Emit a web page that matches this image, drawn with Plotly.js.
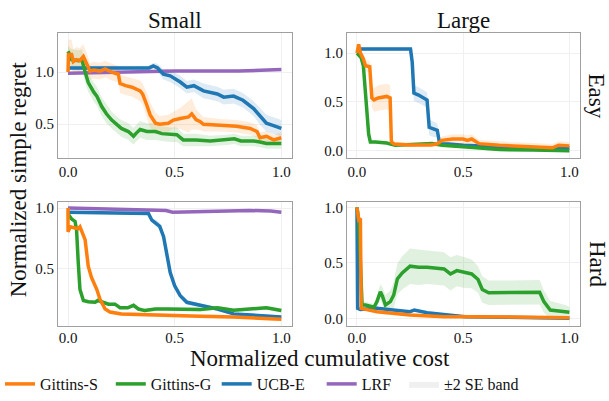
<!DOCTYPE html>
<html>
<head>
<meta charset="utf-8">
<script src="https://cdn.plot.ly/plotly-3.0.1.min.js"></script>
<style>html,body{margin:0;padding:0;background:#fff}#plot{width:609px;height:401px}</style>
</head>
<body>
<div id="plot"></div>
<script>
// ---------- DATA ----------
const seriesNames = ["Gittins-S", "Gittins-G", "UCB-E", "LRF"];
const bandName = "±2 SE band";
const colNames = ["Small", "Large"];
const rowNames = ["Easy", "Hard"];
const xTitle = "Normalized cumulative cost";
const yTitle = "Normalized simple regret";
const xTicks = [0, 0.5, 1.0];

// Small / Easy
const SE_GS_x = [0, 0.002, 0.017, 0.025, 0.04, 0.055, 0.072, 0.088, 0.103, 0.12, 0.15, 0.174, 0.205, 0.236, 0.244, 0.27, 0.30, 0.338, 0.35, 0.37, 0.385, 0.41, 0.43, 0.47, 0.494, 0.526, 0.565, 0.58, 0.60, 0.62, 0.635, 0.714, 0.79, 0.854, 0.886, 0.90, 0.93, 0.964, 1.0];
const SE_GS_y = [1.0, 1.17, 1.17, 1.10, 1.12, 1.11, 1.15, 1.075, 1.01, 1.02, 1.01, 1.03, 1.0, 0.98, 0.89, 0.87, 0.855, 0.82, 0.79, 0.68, 0.59, 0.51, 0.50, 0.51, 0.54, 0.555, 0.57, 0.60, 0.545, 0.525, 0.50, 0.49, 0.48, 0.46, 0.43, 0.37, 0.385, 0.35, 0.37];
const SE_GS_se = [0.02, 0.14, 0.14, 0.12, 0.12, 0.12, 0.12, 0.1, 0.08, 0.08, 0.08, 0.08, 0.08, 0.08, 0.09, 0.09, 0.09, 0.1, 0.1, 0.12, 0.12, 0.1, 0.08, 0.08, 0.08, 0.1, 0.15, 0.15, 0.1, 0.08, 0.07, 0.06, 0.06, 0.06, 0.06, 0.05, 0.05, 0.05, 0.05];
const SE_GG_x = [0, 0.017, 0.05, 0.065, 0.08, 0.095, 0.12, 0.135, 0.158, 0.18, 0.205, 0.23, 0.25, 0.283, 0.307, 0.32, 0.338, 0.37, 0.41, 0.44, 0.48, 0.51, 0.54, 0.60, 0.667, 0.745, 0.78, 0.81, 0.87, 0.90, 0.93, 1.0];
const SE_GG_y = [1.2, 1.12, 1.11, 1.12, 1.0, 0.90, 0.81, 0.77, 0.67, 0.60, 0.54, 0.49, 0.46, 0.43, 0.385, 0.415, 0.45, 0.43, 0.43, 0.41, 0.40, 0.40, 0.35, 0.35, 0.34, 0.35, 0.36, 0.34, 0.34, 0.33, 0.315, 0.315];
const SE_GG_se = [0.05, 0.1, 0.1, 0.1, 0.1, 0.09, 0.09, 0.09, 0.09, 0.09, 0.08, 0.08, 0.08, 0.08, 0.08, 0.08, 0.08, 0.08, 0.08, 0.07, 0.07, 0.07, 0.06, 0.06, 0.05, 0.05, 0.05, 0.05, 0.05, 0.05, 0.05, 0.05];
const SE_UC_x = [0, 0.38, 0.40, 0.42, 0.447, 0.479, 0.526, 0.557, 0.59, 0.635, 0.70, 0.73, 0.776, 0.82, 0.87, 0.90, 0.93, 0.96, 1.0];
const SE_UC_y = [1.04, 1.04, 1.06, 1.04, 0.98, 0.965, 0.905, 0.855, 0.87, 0.82, 0.79, 0.76, 0.77, 0.73, 0.65, 0.575, 0.51, 0.49, 0.46];
const SE_UC_se = [0.02, 0.02, 0.03, 0.04, 0.05, 0.06, 0.06, 0.06, 0.06, 0.07, 0.07, 0.07, 0.07, 0.07, 0.07, 0.08, 0.08, 0.08, 0.08];
const SE_LR_x = [0, 0.2, 0.5, 0.8, 0.95, 1.0];
const SE_LR_y = [0.99, 1.0, 1.01, 1.01, 1.02, 1.025];
const SE_LR_se = [0.01, 0.01, 0.01, 0.01, 0.01, 0.01];

// Large / Easy
const LE_GS_x = [0, 0.008, 0.016, 0.03, 0.04, 0.06, 0.07, 0.08, 0.10, 0.14, 0.156, 0.162, 0.175, 0.25, 0.347, 0.378, 0.40, 0.45, 0.50, 0.52, 0.54, 0.575, 0.67, 0.83, 0.92, 0.95, 1.0];
const LE_GS_y = [1.0, 1.09, 1.0, 0.94, 0.87, 0.86, 0.54, 0.52, 0.54, 0.556, 0.54, 0.09, 0.07, 0.06, 0.06, 0.07, 0.107, 0.12, 0.12, 0.106, 0.12, 0.073, 0.057, 0.04, 0.03, 0.057, 0.05];
const LE_GS_se = [0.02, 0.03, 0.03, 0.05, 0.06, 0.06, 0.1, 0.12, 0.13, 0.13, 0.13, 0.04, 0.02, 0.02, 0.02, 0.03, 0.04, 0.05, 0.05, 0.05, 0.05, 0.04, 0.04, 0.04, 0.04, 0.04, 0.04];
const LE_GG_x = [0, 0.02, 0.03, 0.047, 0.055, 0.063, 0.087, 0.14, 0.18, 0.354, 0.40, 0.50, 0.67, 0.83, 1.0];
const LE_GG_y = [1.0, 0.95, 0.87, 0.40, 0.17, 0.09, 0.09, 0.08, 0.057, 0.073, 0.057, 0.04, 0.013, 0.007, 0.0];
const LE_GG_se = [0.015, 0.015, 0.015, 0.015, 0.015, 0.015, 0.015, 0.015, 0.015, 0.015, 0.015, 0.015, 0.015, 0.015, 0.015];
const LE_UC_x = [0, 0.252, 0.26, 0.268, 0.29, 0.315, 0.33, 0.34, 0.36, 0.378, 0.386, 0.39, 0.43, 0.50, 0.67, 0.83, 1.0];
const LE_UC_y = [1.04, 1.04, 0.907, 0.59, 0.57, 0.54, 0.52, 0.24, 0.22, 0.21, 0.11, 0.07, 0.07, 0.057, 0.04, 0.03, 0.03];
const LE_UC_se = [0.02, 0.02, 0.05, 0.08, 0.08, 0.08, 0.08, 0.08, 0.08, 0.07, 0.05, 0.02, 0.015, 0.015, 0.015, 0.015, 0.015];

// Small / Hard
const SH_GS_x = [0, 0.0, 0.01, 0.025, 0.048, 0.056, 0.064, 0.08, 0.095, 0.11, 0.135, 0.15, 0.174, 0.197, 0.25, 0.33, 0.463, 0.62, 0.776, 1.0];
const SH_GS_y = [1.0, 0.805, 0.846, 0.84, 0.83, 0.846, 0.81, 0.74, 0.52, 0.43, 0.33, 0.25, 0.17, 0.145, 0.13, 0.125, 0.122, 0.11, 0.105, 0.085];
const SH_GS_se = [0.015, 0.015, 0.015, 0.015, 0.015, 0.015, 0.015, 0.015, 0.015, 0.015, 0.015, 0.015, 0.015, 0.015, 0.015, 0.015, 0.015, 0.015, 0.015, 0.015];
const SH_GG_x = [0, 0.017, 0.033, 0.04, 0.048, 0.056, 0.072, 0.095, 0.127, 0.14, 0.19, 0.22, 0.244, 0.28, 0.307, 0.33, 0.36, 0.41, 0.463, 0.62, 0.70, 0.776, 0.93, 1.0];
const SH_GG_y = [0.95, 0.91, 0.89, 0.82, 0.55, 0.33, 0.24, 0.23, 0.225, 0.24, 0.21, 0.21, 0.18, 0.18, 0.20, 0.17, 0.157, 0.17, 0.17, 0.165, 0.18, 0.16, 0.18, 0.157];
const SH_GG_se = [0.015, 0.015, 0.015, 0.015, 0.015, 0.015, 0.015, 0.015, 0.015, 0.015, 0.015, 0.015, 0.015, 0.015, 0.015, 0.015, 0.015, 0.015, 0.015, 0.015, 0.015, 0.015, 0.015, 0.015];
const SH_UC_x = [0, 0.377, 0.393, 0.416, 0.43, 0.448, 0.463, 0.479, 0.50, 0.526, 0.557, 0.62, 0.70, 0.776, 0.93, 1.0];
const SH_UC_y = [0.965, 0.955, 0.90, 0.87, 0.85, 0.765, 0.63, 0.47, 0.36, 0.28, 0.225, 0.20, 0.17, 0.13, 0.117, 0.105];
const SH_UC_se = [0.01, 0.01, 0.02, 0.03, 0.03, 0.03, 0.03, 0.03, 0.03, 0.02, 0.02, 0.015, 0.015, 0.01, 0.01, 0.01];
const SH_LR_x = [0, 0.2, 0.46, 0.49, 0.7, 0.85, 0.95, 1.0];
const SH_LR_y = [1.0, 0.99, 0.98, 0.965, 0.97, 0.98, 0.975, 0.965];
const SH_LR_se = [0.01, 0.01, 0.01, 0.01, 0.01, 0.01, 0.01, 0.01];

// Large / Hard
const LH_GS_x = [0, 0.008, 0.016, 0.02, 0.03, 0.094, 0.25, 0.41, 0.51, 0.67, 1.0];
const LH_GS_y = [1.0, 0.89, 0.90, 0.09, 0.085, 0.06, 0.03, 0.015, 0.015, 0.01, 0.005];
const LH_GS_se = [0.01, 0.01, 0.01, 0.01, 0.01, 0.01, 0.01, 0.01, 0.01, 0.01, 0.01];
const LH_GG_x = [0, 0.008, 0.024, 0.04, 0.08, 0.094, 0.11, 0.12, 0.134, 0.157, 0.173, 0.19, 0.213, 0.25, 0.29, 0.33, 0.41, 0.44, 0.47, 0.50, 0.54, 0.57, 0.59, 0.62, 0.86, 0.88, 0.91, 0.98, 1.0];
const LH_GG_y = [1.0, 0.89, 0.12, 0.12, 0.10, 0.15, 0.24, 0.20, 0.12, 0.15, 0.21, 0.355, 0.41, 0.47, 0.46, 0.46, 0.445, 0.40, 0.43, 0.415, 0.40, 0.35, 0.26, 0.23, 0.235, 0.15, 0.075, 0.06, 0.055];
const LH_GG_se = [0.01, 0.02, 0.03, 0.03, 0.03, 0.05, 0.07, 0.08, 0.09, 0.1, 0.12, 0.14, 0.15, 0.16, 0.16, 0.15, 0.15, 0.15, 0.14, 0.14, 0.13, 0.12, 0.12, 0.11, 0.11, 0.1, 0.08, 0.06, 0.05];
const LH_UC_x = [0, 0.003, 0.016, 0.094, 0.17, 0.25, 0.27, 0.33, 0.43, 0.51, 0.67, 1.0];
const LH_UC_y = [1.0, 0.09, 0.08, 0.09, 0.074, 0.06, 0.075, 0.05, 0.03, 0.015, 0.01, 0.0];
const LH_UC_se = [0.01, 0.01, 0.01, 0.01, 0.01, 0.01, 0.01, 0.01, 0.01, 0.01, 0.01, 0.01];

// ---------- STYLE ----------
const colors = {"Gittins-S": "#ff7f0e", "Gittins-G": "#2ca02c", "UCB-E": "#1f77b4", "LRF": "#9467bd"};
const bandColors = {"Gittins-S": "rgba(255,127,14,0.15)", "Gittins-G": "rgba(44,160,44,0.15)", "UCB-E": "rgba(31,119,180,0.15)", "LRF": "rgba(148,103,189,0.15)"};
const legendPad = {"Gittins-S": 2, "Gittins-G": 0, "UCB-E": 3, "LRF": 2};
const FONT = "Liberation Serif";

const panels = [
  {xa: "x", ya: "y", series: [["LRF", SE_LR_x, SE_LR_y, SE_LR_se], ["UCB-E", SE_UC_x, SE_UC_y, SE_UC_se], ["Gittins-G", SE_GG_x, SE_GG_y, SE_GG_se], ["Gittins-S", SE_GS_x, SE_GS_y, SE_GS_se]]},
  {xa: "x2", ya: "y2", series: [["UCB-E", LE_UC_x, LE_UC_y, LE_UC_se], ["Gittins-G", LE_GG_x, LE_GG_y, LE_GG_se], ["Gittins-S", LE_GS_x, LE_GS_y, LE_GS_se]]},
  {xa: "x3", ya: "y3", series: [["LRF", SH_LR_x, SH_LR_y, SH_LR_se], ["UCB-E", SH_UC_x, SH_UC_y, SH_UC_se], ["Gittins-G", SH_GG_x, SH_GG_y, SH_GG_se], ["Gittins-S", SH_GS_x, SH_GS_y, SH_GS_se]]},
  {xa: "x4", ya: "y4", series: [["UCB-E", LH_UC_x, LH_UC_y, LH_UC_se], ["Gittins-G", LH_GG_x, LH_GG_y, LH_GG_se], ["Gittins-S", LH_GS_x, LH_GS_y, LH_GS_se]]}
];

const traces = [];
panels.forEach(p => {
  p.series.forEach(([name, xs, ys, se]) => {
    const lo = ys.map((v, i) => v - se[i]);
    const hi = ys.map((v, i) => v + se[i]);
    traces.push({x: xs, y: lo, xaxis: p.xa, yaxis: p.ya, mode: "lines", line: {width: 0, color: bandColors[name]}, showlegend: false, hoverinfo: "skip"});
    traces.push({x: xs, y: hi, xaxis: p.xa, yaxis: p.ya, mode: "lines", line: {width: 0, color: bandColors[name]}, fill: "tonexty", fillcolor: bandColors[name], showlegend: false, hoverinfo: "skip"});
  });
});
panels.forEach(p => {
  p.series.forEach(([name, xs, ys]) => {
    traces.push({x: xs, y: ys, xaxis: p.xa, yaxis: p.ya, mode: "lines", name: name,
      line: {color: colors[name], width: 3.5}, showlegend: false});
  });
});
seriesNames.forEach((name, i) => {
  traces.push({x: [null], y: [null], mode: "lines", name: name + "\u00a0".repeat(legendPad[name]),
    line: {color: colors[name], width: 3.5}, legendrank: i + 1, xaxis: "x", yaxis: "y"});
});
traces.push({x: [null], y: [null], mode: "lines", name: bandName, fill: "toself", fillcolor: "rgba(0,0,0,0.06)",
  line: {width: 0, color: "rgba(0,0,0,0)"}, legendrank: 5, xaxis: "x", yaxis: "y"});

const W = 609, H = 401;
const fx = px => px / W, fy = py => 1 - py / H;
const xd1 = [fx(58), fx(292)], xd2 = [fx(347), fx(580)];
const yd1 = [fy(160), fy(33)], yd2 = [fy(331), fy(205)];

const tickFont = {family: FONT, size: 15, color: "#111"};
function xax(dom, anchor, standoff) {
  return {domain: dom, anchor: anchor, range: [-0.047, 1.05], tickvals: xTicks, tickformat: ".1f",
    showgrid: true, gridcolor: "#f0f0f0", gridwidth: 1, zeroline: false, showline: true, mirror: true,
    linecolor: "#a0a0a0", linewidth: 1, ticks: "", tickfont: tickFont, ticklabelstandoff: standoff || 0};
}
function yax(dom, anchor, range, tv) {
  return {domain: dom, anchor: anchor, range: range, tickvals: tv, tickformat: ".1f",
    showgrid: true, gridcolor: "#f0f0f0", gridwidth: 1, zeroline: false, showline: true, mirror: true,
    linecolor: "#a0a0a0", linewidth: 1, ticks: "", tickfont: tickFont};
}

const ann = (text, x, y, opts) => Object.assign({text: text, xref: "paper", yref: "paper", x: fx(x), y: fy(y), showarrow: false, xanchor: "center", yanchor: "middle", font: {family: FONT, size: 23, color: "#111"}}, opts || {});

const layout = {
  width: W, height: H,
  font: {family: FONT, color: "#111"},
  margin: {l: 0, r: 0, t: 0, b: 0},
  paper_bgcolor: "#fff", plot_bgcolor: "#fff",
  showlegend: true,
  xaxis: xax(xd1, "y"), yaxis: yax(yd1, "x", [0.18, 1.38], [0.5, 1.0]),
  xaxis2: xax(xd2, "y2"), yaxis2: yax(yd1, "x2", [-0.07, 1.21], [0, 0.5, 1.0]),
  xaxis3: xax(xd1, "y3", -2), yaxis3: yax(yd2, "x3", [0.03, 1.05], [0.5, 1.0]),
  xaxis4: xax(xd2, "y4", -2), yaxis4: yax(yd2, "x4", [-0.07, 1.05], [0, 0.5, 1.0]),
  legend: {orientation: "h", x: fx(0), xanchor: "left", y: fy(390), yanchor: "middle",
    font: {family: FONT, size: 16, color: "#111"}, bgcolor: "rgba(0,0,0,0)", itemwidth: 30, traceorder: "normal"},
  annotations: [
    ann(colNames[0], 175, 21),
    ann(colNames[1], 463, 21),
    ann(rowNames[0], 596, 97, {textangle: 90}),
    ann(rowNames[1], 597, 268, {textangle: 90}),
    ann(yTitle, 18, 182, {textangle: -90}),
    ann(xTitle, 320, 364, {borderpad: 0})
  ]
};

Plotly.newPlot("plot", traces, layout, {displayModeBar: false, staticPlot: true});
</script>
</body>
</html>
